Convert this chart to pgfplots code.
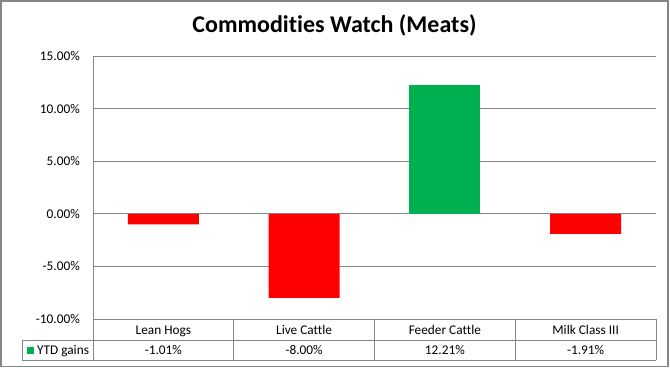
\documentclass[border=0pt]{standalone}
\usepackage{fontspec}
\setmainfont{Carlito}[Ligatures=NoCommon]
\usepackage{pgfplots}
\pgfplotsset{compat=1.18}
\definecolor{xlred}{HTML}{FF0000}
\definecolor{xlgreen}{HTML}{00B050}
\definecolor{xlgrid}{HTML}{868686}
\begin{document}
\begin{tikzpicture}
\useasboundingbox (-93bp,-49bp) rectangle (577bp,319bp);
\begin{axis}[
  at={(0,0)}, anchor=south west,
  scale only axis, width=563bp, height=263bp,
  xmin=-0.5, xmax=3.5, ymin=-10, ymax=15,
  ytick={-10,-5,0,5,10,15},
  ymajorgrids, grid style={xlgrid, line width=0.9bp},
  axis x line*=bottom, axis y line*=left,
  axis line style={xlgrid, line width=0.9bp},
  major tick length=0pt,
  tick label style={font=\fontsize{13.3bp}{16bp}\selectfont, text=black},
  /pgf/number format/assume math mode=true,
  yticklabel={\pgfmathprintnumber[fixed,fixed zerofill,precision=2]{\tick}\%},
  y tick label style={anchor=east, inner sep=0pt, xshift=-13bp},
  xtick={0,1,2,3},
  xticklabels={Lean Hogs, Live Cattle, Feeder Cattle, Milk Class III},
  x tick label style={anchor=base, inner sep=0pt, yshift=-15.2bp},
  extra x ticks={0,1,2,3},
  extra x tick labels={-1.01\%,-8.00\%,12.21\%,-1.91\%},
  extra x tick style={x tick label style={yshift=-20.5bp}},
  ybar, bar width=71bp, bar shift=0pt,
  clip=false,
]
\addplot[fill=xlred, draw=none] coordinates {(0,-1.01) (1,-8.00) (3,-1.91)};
\addplot[fill=xlgreen, draw=none] coordinates {(2,12.21)};
\end{axis}
\draw[xlgrid, line width=0.9bp] (-71bp,-21.4bp) -- (563bp,-21.4bp);
\draw[xlgrid, line width=0.9bp] (-71bp,-41.4bp) -- (563bp,-41.4bp);
\draw[xlgrid, line width=0.9bp] (-71bp,-21.4bp) -- (-71bp,-41.4bp);
\foreach \x in {0,140.75,281.5,422.25,563}
  \draw[xlgrid, line width=0.9bp] (\x bp,0) -- (\x bp,-41.4bp);
\fill[xlgreen] (-66.3bp,-27.7bp) rectangle (-59.3bp,-35bp);
\node[anchor=base west, inner sep=0pt, font=\fontsize{13.3bp}{16bp}\selectfont] at (-56bp,-35.5bp) {YTD gains};
\node[anchor=base, inner sep=0pt, font=\fontsize{24bp}{29bp}\selectfont\bfseries] at (241.5bp,286.7bp) {Commodities Watch (Meats)};
\draw[xlgrid, line width=1.2bp] (-92bp,-47.5bp) rectangle (575bp,318bp);
\end{tikzpicture}
\end{document}
